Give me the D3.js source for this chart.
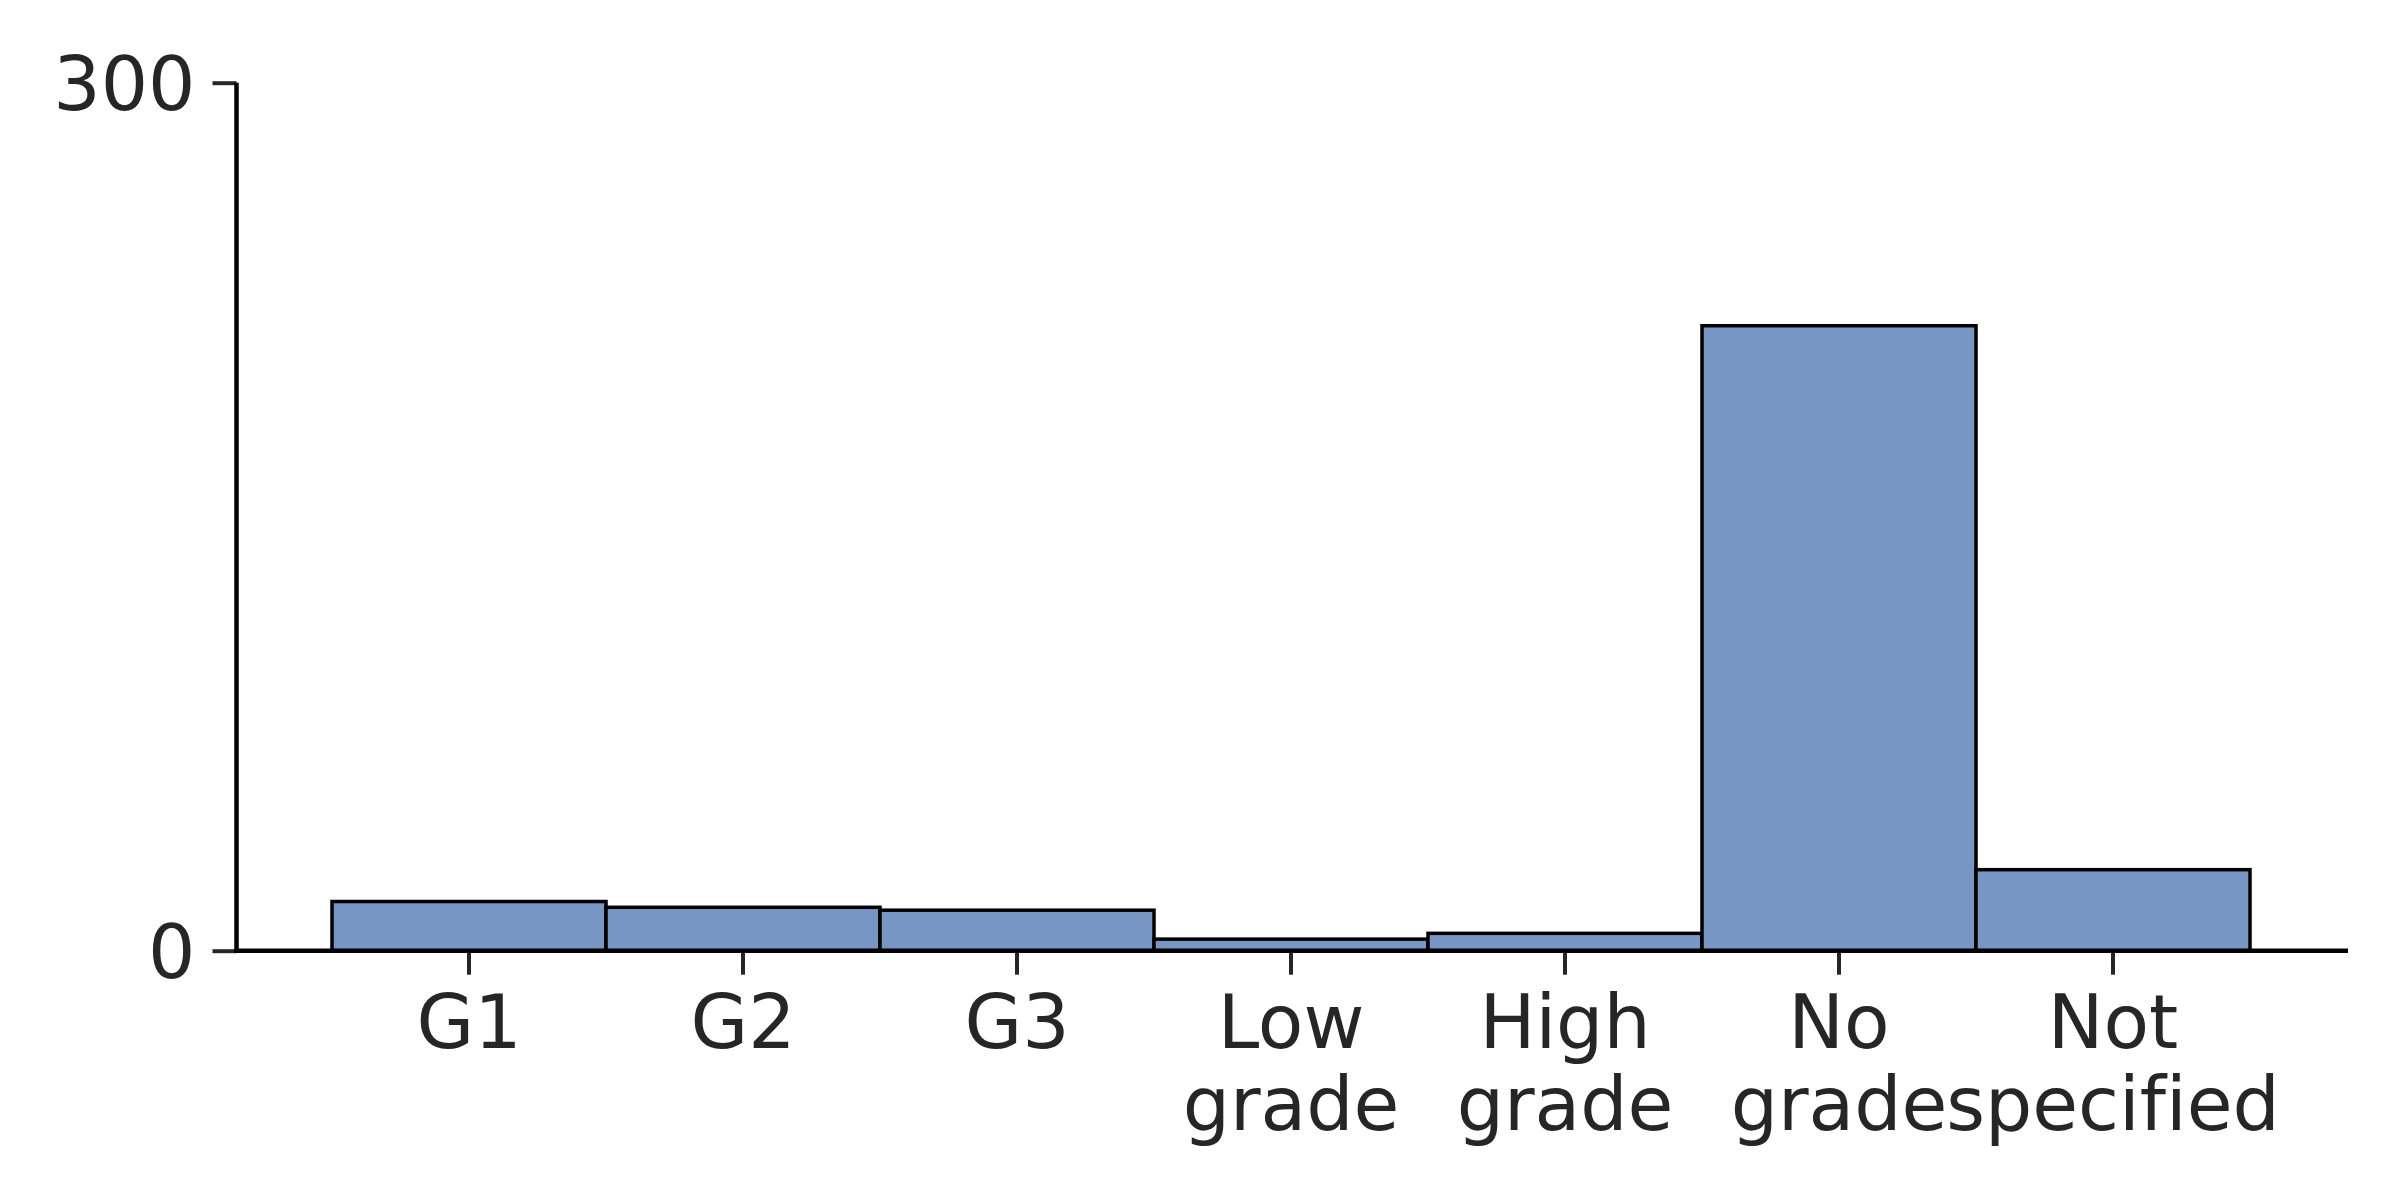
<!DOCTYPE html>
<html>
<head>
<meta charset="utf-8">
<script src="https://cdn.jsdelivr.net/npm/d3@7"></script>
<style>
  html, body { margin: 0; padding: 0; background: #ffffff; }
  svg { display: block; }
  text { font-family: "DejaVu Sans", sans-serif; fill: #262626; font-variant-ligatures: none; font-feature-settings: "liga" 0; }
</style>
</head>
<body>
<script>
// ---- data ----
const categories = ["G1", "G2", "G3", "Low grade", "High grade", "No grade", "Not specified"];
const tickLabels = [["G1"], ["G2"], ["G3"], ["Low", "grade"], ["High", "grade"], ["No", "grade"], ["Not", "specified"]];
const counts = [17, 15, 14, 4, 6, 216, 28];
const yTicks = [0, 300];

// ---- layout ----
const W = 2400, H = 1200;
const FS = 74.5;
const svg = d3.select("body").append("svg").attr("width", W).attr("height", H);

const y = d3.scaleLinear().domain([0, 300]).range([950.7, 82.7]);
const x = d3.scaleBand().domain(categories).range([332, 2250]).paddingInner(0).paddingOuter(0);
const axisLeftX = 236.5, axisRightX = 2348;

// bars
svg.append("g").selectAll("rect")
  .data(categories)
  .join("rect")
  .attr("x", d => x(d))
  .attr("width", x.bandwidth())
  .attr("y", (d, i) => y(counts[i]))
  .attr("height", (d, i) => y(0) - y(counts[i]))
  .attr("fill", "rgb(120,150,196)")
  .attr("stroke", "#000")
  .attr("stroke-width", 3.5);

// y axis
const yAxis = d3.axisLeft(y).tickValues(yTicks).tickSize(24).tickPadding(17).tickFormat(d3.format("d"));
const gy = svg.append("g").attr("transform", `translate(${axisLeftX},0)`).call(yAxis);
gy.select(".domain").remove();
gy.selectAll(".tick line").attr("stroke", "#262626").attr("stroke-width", 4);
gy.selectAll(".tick text").attr("font-size", FS).attr("dy", "0.36em").style("fill", "#262626");

// x axis
const xAxis = d3.axisBottom(x).tickSize(24).tickFormat("");
const gx = svg.append("g").attr("transform", `translate(0,${y(0)})`).call(xAxis);
gx.select(".domain").remove();
gx.selectAll(".tick line").attr("stroke", "#262626").attr("stroke-width", 4);
gx.selectAll(".tick text").remove();
gx.selectAll(".tick").each(function(d, i) {
  const t = d3.select(this).append("text")
    .attr("text-anchor", "middle")
    .attr("font-size", FS)
    .attr("y", 97);
  tickLabels[i].forEach((line, k) => {
    t.append("tspan").attr("x", 0).attr("y", 97 + k * 82).text(line);
  });
});

// spines
svg.append("line").attr("x1", axisLeftX).attr("x2", axisLeftX).attr("y1", y(300)).attr("y2", y(0) + 2)
  .attr("stroke", "#000").attr("stroke-width", 4.5);
svg.append("line").attr("x1", axisLeftX - 2).attr("x2", axisRightX).attr("y1", y(0)).attr("y2", y(0))
  .attr("stroke", "#000").attr("stroke-width", 4.5);
</script>
</body>
</html>
